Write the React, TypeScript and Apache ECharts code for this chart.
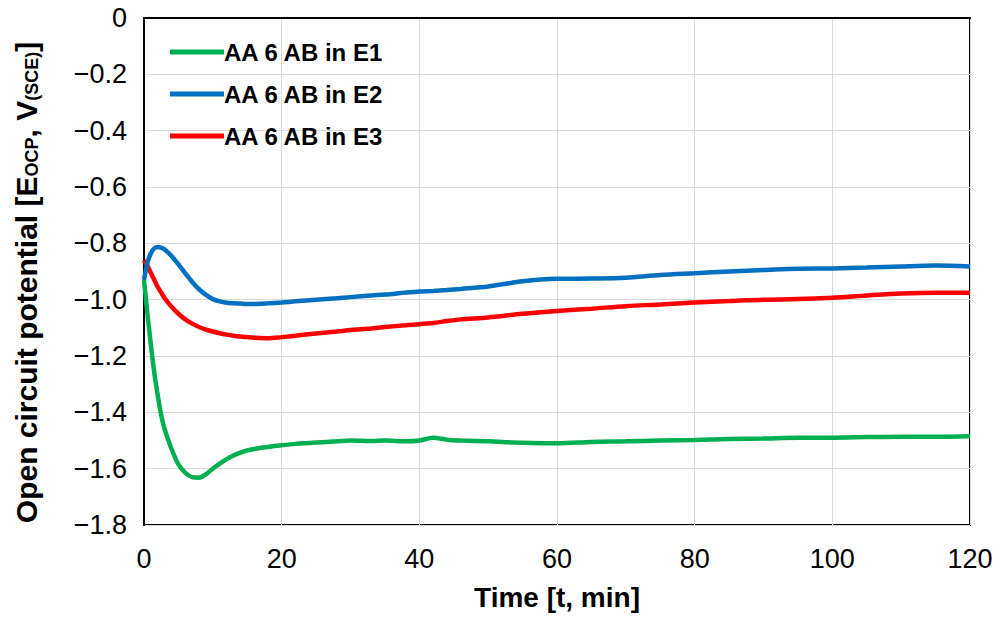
import React, { useEffect, useRef } from "react";
import * as echarts from "echarts";

const timeMin = [0, 0.5, 1, 1.5, 2, 2.5, 3, 4, 5, 6, 7, 8, 9, 10, 11, 12, 13, 14, 15, 16, 18, 20, 22, 25, 28, 30, 33, 35, 38, 40, 42, 44, 46, 50, 55, 60, 65, 70, 75, 80, 85, 90, 95, 100, 105, 110, 115, 120];

const e1 = [-0.93, -1.05, -1.16, -1.26, -1.34, -1.41, -1.46, -1.53, -1.585, -1.615, -1.63, -1.632, -1.62, -1.6, -1.582, -1.566, -1.553, -1.543, -1.535, -1.53, -1.523, -1.517, -1.512, -1.507, -1.503, -1.5, -1.502, -1.5, -1.503, -1.5, -1.49, -1.497, -1.5, -1.503, -1.508, -1.51, -1.505, -1.503, -1.5, -1.498, -1.495, -1.493, -1.49, -1.49, -1.488, -1.487, -1.487, -1.485];

const e2 = [-0.93, -0.87, -0.835, -0.818, -0.813, -0.815, -0.822, -0.845, -0.875, -0.907, -0.937, -0.963, -0.983, -0.998, -1.006, -1.011, -1.013, -1.014, -1.015, -1.015, -1.013, -1.01, -1.006, -1.0, -0.995, -0.991, -0.985, -0.982, -0.975, -0.971, -0.969, -0.966, -0.962, -0.953, -0.935, -0.926, -0.925, -0.922, -0.912, -0.906, -0.9, -0.895, -0.89, -0.889, -0.886, -0.882, -0.879, -0.882];

const e3 = [-0.86, -0.88, -0.905, -0.93, -0.955, -0.975, -0.995, -1.025, -1.05, -1.07, -1.085, -1.097, -1.106, -1.113, -1.119, -1.124, -1.128, -1.131, -1.133, -1.135, -1.137, -1.133, -1.128, -1.12, -1.113, -1.108, -1.102, -1.097, -1.091, -1.087, -1.083, -1.076, -1.07, -1.063, -1.05, -1.04, -1.032, -1.023, -1.017, -1.01, -1.005, -1.0, -0.998, -0.993, -0.985, -0.978, -0.975, -0.975];

const seriesNames = ["AA 6 AB in E1", "AA 6 AB in E2", "AA 6 AB in E3"];
const seriesColors = ["#00b050", "#0070c0", "#ff0000"];
const seriesValues = [e1, e2, e3];

const FONT = "'Liberation Sans', Arial, sans-serif";

export default function App() {
  const ref = useRef<HTMLDivElement>(null);
  useEffect(() => {
    if (!ref.current) return;
    const chart = echarts.init(ref.current, undefined, { renderer: "svg" });
    chart.setOption({
      animation: false,
      backgroundColor: "#fff",
      grid: {
        left: 144,
        right: 30,
        top: 18,
        bottom: 92,
        show: true,
        borderColor: "#000",
        borderWidth: 2,
      },
      legend: {
        orient: "vertical",
        left: 165,
        top: 35,
        icon: "rect",
        itemWidth: 54,
        itemHeight: 5,
        itemGap: 18,
        data: seriesNames,
        textStyle: { fontFamily: FONT, fontWeight: "bold", fontSize: 24, color: "#000", padding: [0, 0, 0, -5] },
      },
      xAxis: {
        type: "value",
        min: 0,
        max: 120,
        interval: 20,
        name: "Time [t, min]",
        nameLocation: "middle",
        nameGap: 58,
        nameTextStyle: { fontFamily: FONT, fontWeight: "bold", fontSize: 28, color: "#000" },
        axisLine: { show: true, lineStyle: { color: "#000", width: 2 } },
        axisTick: { show: false },
        axisLabel: { fontFamily: FONT, fontSize: 27, color: "#000", margin: 20 },
        splitLine: { show: true, lineStyle: { color: "#d9d9d9", width: 1 } },
      },
      yAxis: {
        type: "value",
        min: -1.8,
        max: 0,
        interval: 0.2,
        name: "{b|Open circuit potential [E}{s|OCP}{b|, V}{s|(SCE)}{b|]}",
        nameLocation: "middle",
        nameGap: 103,
        nameRotate: 90,
        nameTextStyle: {
          fontFamily: FONT,
          color: "#000",
          padding: [0, 0, 0, -22],
          rich: {
            b: { fontFamily: FONT, fontWeight: "bold", fontSize: 30, color: "#000", verticalAlign: "bottom", lineHeight: 34 },
            s: { fontFamily: FONT, fontWeight: "bold", fontSize: 18, color: "#000", verticalAlign: "bottom", lineHeight: 24 },
          },
        },
        axisLine: { show: true, lineStyle: { color: "#000", width: 2 } },
        axisTick: { show: false },
        axisLabel: {
          fontFamily: FONT,
          fontSize: 27,
          color: "#000",
          margin: 17,
          formatter: (v: number) => (Math.abs(v) < 1e-9 ? "0" : "\u2212" + Math.abs(v).toFixed(1)),
        },
        splitLine: { show: true, lineStyle: { color: "#d9d9d9", width: 1 } },
      },
      series: seriesNames.map((name, i) => ({
        name,
        type: "line",
        data: timeMin.map((t, j) => [t, seriesValues[i][j]]),
        showSymbol: false,
        smooth: 0.3,
        lineStyle: { color: seriesColors[i], width: 4.5 },
        itemStyle: { color: seriesColors[i] },
        z: 3 - i,
      })),
    });
    return () => chart.dispose();
  }, []);
  return <div ref={ref} style={{ width: 1000, height: 617, position: "absolute", left: 0, top: 0 }} />;
}
